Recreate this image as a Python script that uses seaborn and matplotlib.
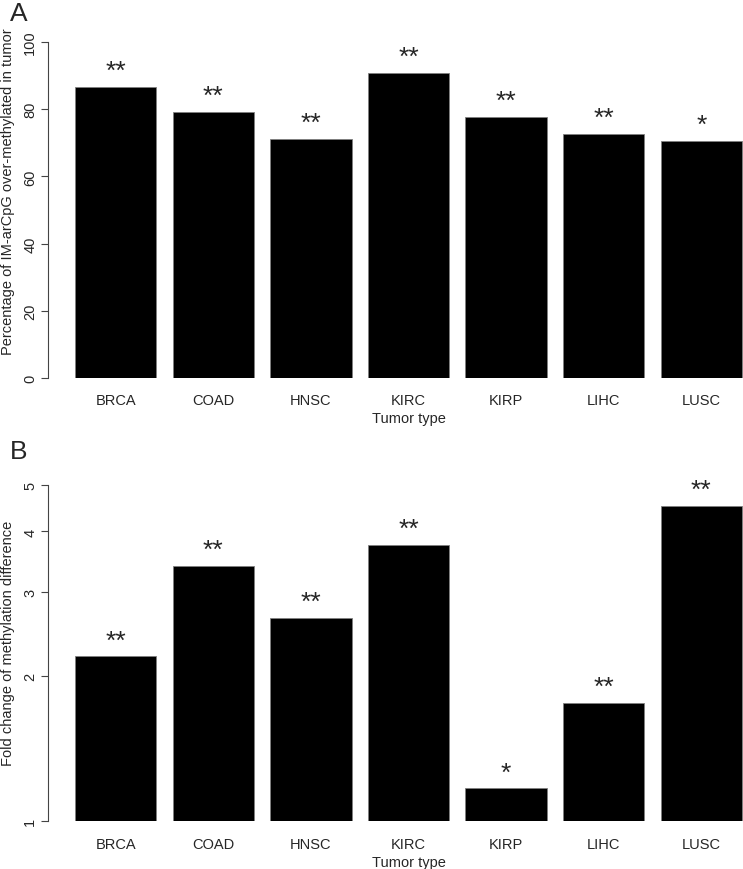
import numpy as np
import pandas as pd
import matplotlib
matplotlib.use("Agg")
import matplotlib.pyplot as plt
import matplotlib.ticker as mticker
import seaborn as sns

# data
tumors = ["BRCA", "COAD", "HNSC", "KIRC", "KIRP", "LIHC", "LUSC"]
pct_over = [86.7, 79.1, 71.2, 90.8, 77.8, 72.6, 70.6]
fold_change = [2.20, 3.39, 2.64, 3.75, 1.17, 1.76, 4.51]
stars_a = ["**", "**", "**", "**", "**", "**", "*"]
stars_b = ["**", "**", "**", "**", "*", "**", "**"]

sns.set_theme(style="white")
plt.rcParams["font.family"] = ["Liberation Sans", "DejaVu Sans"]
plt.rcParams["font.size"] = 10.5

W, H = 743, 870
fig = plt.figure(figsize=(W / 100, H / 100), dpi=100)

def px_axes(left, top, bottom, width):
    return fig.add_axes([left / W, (H - bottom) / H, width / W, (bottom - top) / H])

# bar spacing ~97.6 px, plot region a bit wider than the figure (R style crop)
ax_a = px_axes(48.3, 5, 379, 720.4)
ax_b = px_axes(48.3, 464, 822.3, 720.4)

df = pd.DataFrame({"tumor": tumors, "pct": pct_over, "fc": fold_change})

sns.barplot(data=df, x="tumor", y="pct", ax=ax_a, color="black",
            width=0.833, edgecolor="#808080", linewidth=0.6, saturation=1)
sns.barplot(data=df, x="tumor", y="fc", ax=ax_b, color="black",
            width=0.833, edgecolor="#808080", linewidth=0.6, saturation=1)

ax_b.set_yscale("log")

for ax, vals, st in [(ax_a, pct_over, stars_a), (ax_b, fold_change, stars_b)]:
    for i, (v, s) in enumerate(zip(vals, st)):
        ax.annotate(s, (i, v), xytext=(0, 6.5), textcoords="offset points",
                    ha="center", va="baseline", fontsize=19, clip_on=False,
                    annotation_clip=False)
    ax.set_xlim(-0.69, 6.69)
    for sp in ["top", "right", "bottom"]:
        ax.spines[sp].set_visible(False)
    ax.spines["left"].set_color("#444444")
    ax.spines["left"].set_linewidth(0.8)
    ax.tick_params(axis="x", length=0, pad=11, labelsize=10.5)
    ax.tick_params(axis="y", left=True, length=5, width=0.8, color="#444444",
                   pad=3, labelsize=10.5)
    ax.set_xlabel("Tumor type", fontsize=10.5, labelpad=3)
    ax.set_facecolor("white")

ax_a.set_ylim(0, 111.3)
ax_a.set_yticks([0, 20, 40, 60, 80, 100])
ax_a.spines["left"].set_bounds(0, 100)
ax_a.set_ylabel("Percentage of IM-arCpG over-methylated in tumor", fontsize=10.5)

ax_b.set_ylim(1, 5.55)
ax_b.yaxis.set_major_locator(mticker.FixedLocator([1, 2, 3, 4, 5]))
ax_b.yaxis.set_major_formatter(mticker.FixedFormatter(["1", "2", "3", "4", "5"]))
ax_b.yaxis.set_minor_locator(mticker.NullLocator())
ax_b.spines["left"].set_bounds(1, 5)
ax_b.set_ylabel("Fold change of methylation difference", fontsize=10.5)

for ax in (ax_a, ax_b):
    for lab in ax.get_yticklabels():
        lab.set_rotation(90)
        lab.set_va("center")
    ax.yaxis.set_label_coords(-0.0465, 0.5)

fig.text(10 / W, 1 - 2 / H, "A", fontsize=19, va="top", ha="left")
fig.text(10 / W, 1 - 440 / H, "B", fontsize=19, va="top", ha="left")

fig.savefig("out.png", dpi=100, facecolor="white")
